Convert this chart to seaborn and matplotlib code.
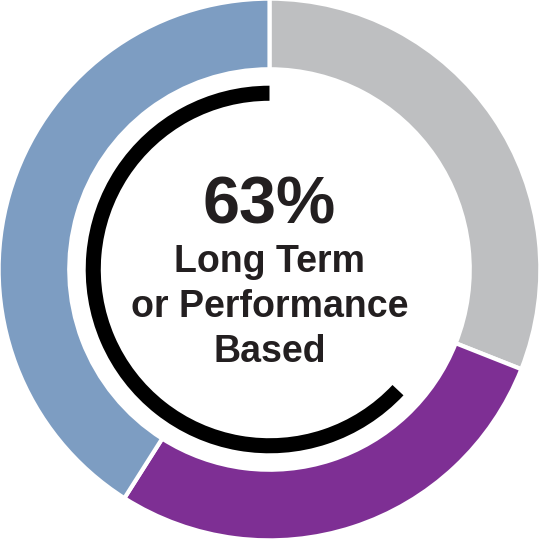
import matplotlib.pyplot as plt
import seaborn as sns

# ring segments, clockwise from 12 o'clock
segments = ["Gray", "Purple", "Blue"]
shares = [31, 28, 41]
seg_colors = ["#BEBFC1", "#7E2F94", "#7D9DC2"]

# inner arc, counter-clockwise from 12 o'clock
headline = 63
label_lines = ["Long Term", "or Performance", "Based"]

sns.set_theme(style="white")
plt.rcParams['font.family'] = ['Liberation Sans', 'DejaVu Sans']

fig = plt.figure(figsize=(5.39, 5.39), dpi=100)
ax = fig.add_axes([0, 0, 1, 1])

ax.pie(shares, colors=seg_colors, startangle=90, counterclock=False,
       radius=1.005, wedgeprops=dict(width=0.262, edgecolor="white", linewidth=3))

ax.pie([headline, 100 - headline], colors=["black", "none"], startangle=90,
       counterclock=True, radius=0.682, wedgeprops=dict(width=0.056, linewidth=0))

txt = "#231F20"
ax.text(0, 0.172, f"{headline}%", ha="center", va="baseline", fontsize=48,
        fontweight="bold", color=txt)
for i, line in enumerate(label_lines):
    ax.text(0, -0.009 - i * 0.167, line, ha="center", va="baseline", fontsize=27,
            fontweight="bold", color=txt)

ax.set_xlim(-1, 1)
ax.set_ylim(-1, 1)
ax.set_aspect("equal")
ax.axis("off")
fig.savefig("out.png", dpi=100, facecolor="white")
